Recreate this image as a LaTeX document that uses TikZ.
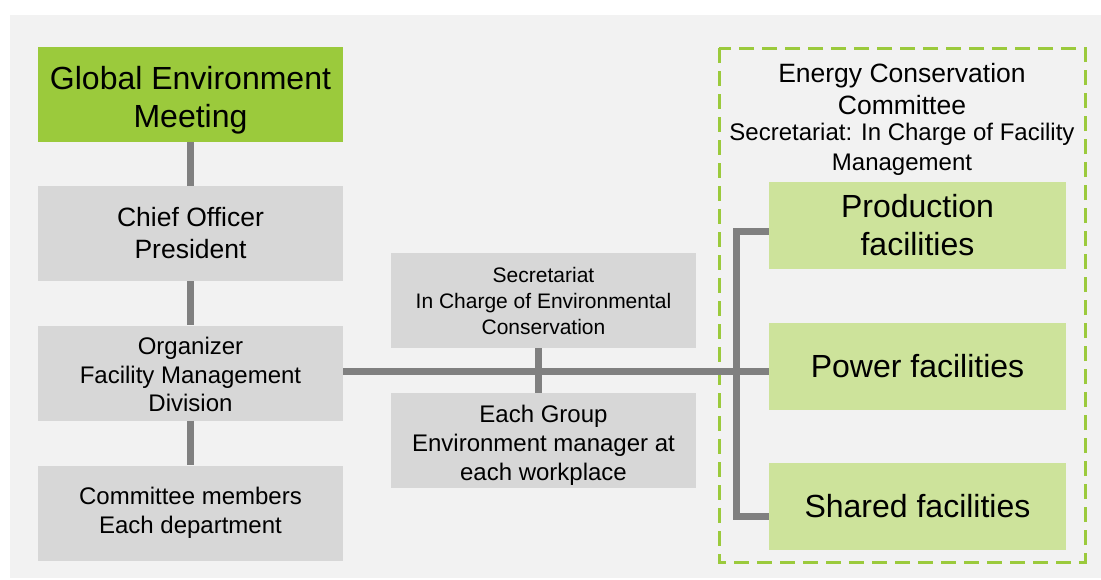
\documentclass[tikz,border=0pt]{standalone}
\usepackage{fontspec}
\setmainfont{Liberation Sans}
\definecolor{bgpanel}{HTML}{F2F2F2}
\definecolor{leafgreen}{HTML}{9BCA3C}
\definecolor{palegreen}{HTML}{CDE39B}
\definecolor{boxgray}{HTML}{D7D7D7}
\definecolor{linkgray}{HTML}{808080}
\begin{document}
\begin{tikzpicture}[x=1pt,y=-1pt,
  box/.style={rectangle, inner sep=0pt, align=center, text=black,
    minimum width=305pt, minimum height=95pt},
  graybox/.style={box, fill=boxgray, font=\fontsize{24}{28.5}\selectfont},
  headbox/.style={box, fill=leafgreen, font=\fontsize{32}{38}\selectfont},
  facility/.style={box, fill=palegreen, minimum width=297pt, minimum height=87pt,
    font=\fontsize{32}{38}\selectfont},
  link/.style={draw=linkgray, line width=7pt, line join=miter},
  groupframe/.style={draw=leafgreen, line width=3pt, dash pattern=on 15pt off 8pt},
]
\useasboundingbox (0,0) rectangle (1101,579);
\fill[white] (0,0) rectangle (1101,579);
\fill[bgpanel] (10,15) rectangle (1101,578);

% committee frame
\draw[groupframe] (719,48) rectangle (1085,562);

% left column
\node[headbox] (glob) at (190.5,94.5) {\rule{0pt}{35pt}Global Environment\\Meeting};
\node[graybox, font=\fontsize{26.5}{32}\selectfont] (chief) at (190.5,233.5) {Chief Officer\\President};
\node[graybox] (org) at (190.5,373) {\rule{0pt}{21pt}Organizer\\Facility Management\\Division};
\node[graybox] (comm) at (190.5,513) {Committee members\\Each department};

% middle column
\node[graybox, font=\fontsize{21}{26}\selectfont] (secr) at (543.5,300.5)
  {Secretariat\\In Charge of Environmental\\Conservation};
\node[graybox, font=\fontsize{24}{29}\selectfont] (group) at (543.5,440.5)
  {\rule{0pt}{27pt}Each Group\\Environment manager at\\each workplace};

% energy conservation committee
\node[inner sep=0pt, align=center, anchor=base, font=\fontsize{26.5}{32}\selectfont]
  (ectitle) at (902,114) {Energy Conservation\\Committee};
\node[inner sep=0pt, align=center, anchor=base, font=\fontsize{24}{30}\selectfont]
  (ecsub) at (902,170) {Secretariat: In Charge of Facility\\Management};
\node[facility] (prod) at (917.5,225) {Production\\facilities};
\node[facility] (power) at (917.5,366.5) {Power facilities};
\node[facility] (shared) at (917.5,506.5) {Shared facilities};

% connectors
\coordinate (bus) at (736,0);
\draw[link] (glob.south) -- (chief.north);
\draw[link] (chief.south) -- (org.north);
\draw[link] (org.south) -- (comm.north);
\draw[link] ([xshift=-5pt]secr.south) -- ([xshift=-5pt]group.north);
\draw[link] ([yshift=2pt]org.east) -- ([yshift=2pt]org.east -| power.west);
\draw[link] ([yshift=-6pt]prod.west) -- ([yshift=-6pt]prod.west -| bus)
  -- ([yshift=-10pt]shared.west -| bus) -- ([yshift=-10pt]shared.west);
\end{tikzpicture}
\end{document}
